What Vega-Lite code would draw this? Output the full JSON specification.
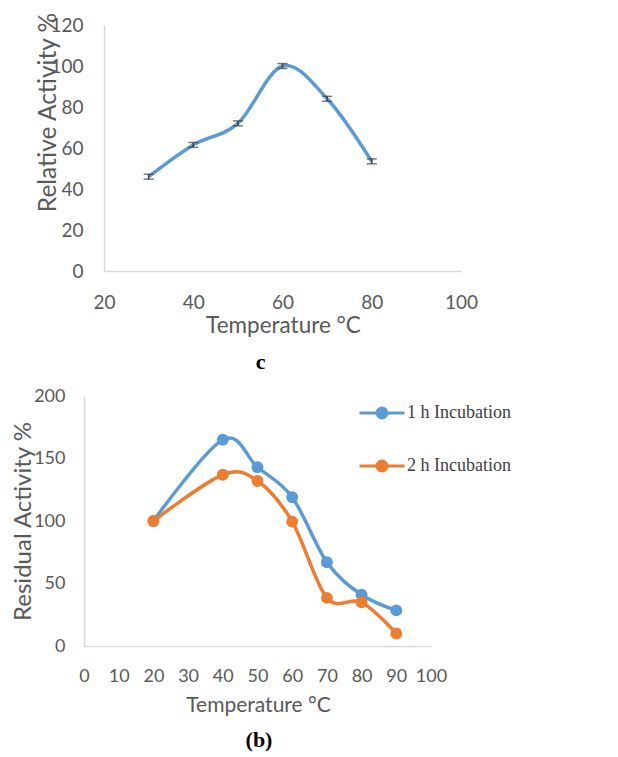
{
  "$schema": "https://vega.github.io/schema/vega-lite/v6.json",
  "background": "white",
  "padding": {"left": 10, "top": 11, "right": 5, "bottom": 5},
  "config": {
    "view": {"stroke": null},
    "axis": {"domainColor": "#D9D9D9", "domainWidth": 1.5, "ticks": false, "grid": false, "labelFlush": false, "labelOverlap": false, "labelColor": "#595959", "labelFont": "Lato", "labelFontSize": 19, "titleColor": "#595959", "titleFont": "Lato", "titleFontSize": 21, "titleFontWeight": "normal"},
    "concat": {"spacing": 14}
  },
  "resolve": {"legend": {"color": "independent"}, "scale": {"color": "independent"}},
  "datasets": {
    "temp": [
      {"temperature": 30, "activity": 46, "low": 44.8, "high": 47.2},
      {"temperature": 40, "activity": 61.5, "low": 60.3, "high": 62.7},
      {"temperature": 50, "activity": 72, "low": 70.8, "high": 73.2},
      {"temperature": 60, "activity": 100, "low": 98.8, "high": 101.2},
      {"temperature": 70, "activity": 84, "low": 82.8, "high": 85.2},
      {"temperature": 80, "activity": 53.5, "low": 52.3, "high": 54.7}
    ],
    "resid": [
      {"temperature": 20, "activity": 100, "series": "1 h Incubation"},
      {"temperature": 40, "activity": 165, "series": "1 h Incubation"},
      {"temperature": 50, "activity": 143, "series": "1 h Incubation"},
      {"temperature": 60, "activity": 119, "series": "1 h Incubation"},
      {"temperature": 70, "activity": 67, "series": "1 h Incubation"},
      {"temperature": 80, "activity": 41, "series": "1 h Incubation"},
      {"temperature": 90, "activity": 28.5, "series": "1 h Incubation"},
      {"temperature": 20, "activity": 100, "series": "2 h Incubation"},
      {"temperature": 40, "activity": 137, "series": "2 h Incubation"},
      {"temperature": 50, "activity": 132, "series": "2 h Incubation"},
      {"temperature": 60, "activity": 99.5, "series": "2 h Incubation"},
      {"temperature": 70, "activity": 38.5, "series": "2 h Incubation"},
      {"temperature": 80, "activity": 35, "series": "2 h Incubation"},
      {"temperature": 90, "activity": 10, "series": "2 h Incubation"}
    ]
  },
  "vconcat": [
    {
      "width": 377,
      "height": 246,
      "title": {"text": "c", "orient": "bottom", "anchor": "middle", "font": "Liberation Serif", "fontSize": 22, "fontWeight": "bold", "color": "black", "dx": -12, "offset": 15},
      "data": {"name": "temp"},
      "encoding": {
        "x": {"field": "temperature", "type": "quantitative", "scale": {"domain": [20, 100], "range": [20, 377], "nice": false},
          "axis": {"values": [20, 40, 60, 80, 100], "labelPadding": 22, "title": "Temperature °C", "titleFontSize": 22.5, "titleX": 199, "titleY": 54, "titleBaseline": "middle"}},
        "y": {"field": "activity", "type": "quantitative", "scale": {"domain": [0, 120], "nice": false},
          "axis": {"values": [0, 20, 40, 60, 80, 100, 120], "offset": -20, "labelPadding": 21, "title": "Relative Activity %", "titleFontSize": 24.5, "titleX": -56, "titleY": 87, "titleBaseline": "middle"}}
      },
      "layer": [
        {"mark": {"type": "line", "interpolate": "cardinal", "color": "#5B9BD5", "strokeWidth": 3.5}},
        {"mark": {"type": "errorbar", "ticks": {"size": 10, "thickness": 1.5}, "rule": {"strokeWidth": 1.5}, "color": "#404040"},
          "encoding": {"y": {"field": "low", "type": "quantitative"}, "y2": {"field": "high"}}}
      ]
    },
    {
      "width": 347,
      "height": 250,
      "title": {"text": "(b)", "orient": "bottom", "anchor": "middle", "font": "Liberation Serif", "fontSize": 22, "fontWeight": "bold", "color": "black", "dx": 1.5, "offset": 15},
      "data": {"name": "resid"},
      "encoding": {
        "x": {"field": "temperature", "type": "quantitative", "scale": {"domain": [0, 100], "nice": false},
          "axis": {"values": [0, 10, 20, 30, 40, 50, 60, 70, 80, 90, 100], "labelFontSize": 18, "labelPadding": 21, "title": "Temperature °C", "titleX": 174, "titleY": 59, "titleBaseline": "middle"}},
        "y": {"field": "activity", "type": "quantitative", "scale": {"domain": [0, 200], "nice": false},
          "axis": {"values": [0, 50, 100, 150, 200], "labelFontSize": 18, "labelPadding": 19, "title": "Residual Activity %", "titleFontSize": 24, "titleX": -61, "titleY": 125, "titleBaseline": "middle"}},
        "color": {"field": "series", "type": "nominal", "scale": {"domain": ["1 h Incubation", "2 h Incubation"], "range": ["#5B9BD5", "#ED7D31"]},
          "legend": {"title": null, "orient": "none", "legendX": 274, "legendY": -7, "padding": 0,
            "symbolType": "M-1,0H1M0.22,0A0.22,0.22 0 1,1 -0.22,0A0.22,0.22 0 1,1 0.22,0Z", "symbolSize": 2025, "symbolStrokeWidth": 3,
            "labelFont": "Liberation Serif", "labelFontSize": 18, "labelColor": "#404040", "rowPadding": 18, "labelOffset": 1}}
      },
      "layer": [
        {"mark": {"type": "line", "interpolate": "cardinal", "strokeWidth": 3.5}},
        {"mark": {"type": "point", "filled": true, "size": 140, "opacity": 1}}
      ]
    }
  ]
}
